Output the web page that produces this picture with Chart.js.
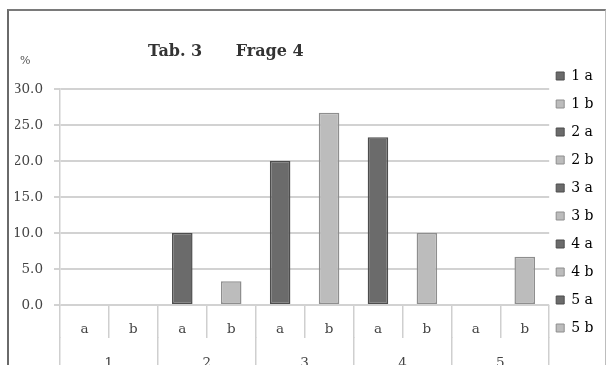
<!DOCTYPE html>
<html>
<head>
<meta charset="utf-8">
<script src="https://cdn.jsdelivr.net/npm/chart.js@4.4.1/dist/chart.umd.min.js"></script>
<style>
  body { margin: 0; background: #fff; overflow: hidden; }
  #wrap { position: relative; width: 607px; height: 365px; overflow: hidden; }
  #c { position: absolute; left: 0; top: 0; }
  .frame { position: absolute; left: 7px; top: 9px; right: 1px; bottom: -20px;
           border-left: 2px solid #6a6a6a; border-top: 2px solid #7a7a7a; border-right: 1px solid #bdbdbd; }
  .pct { position: absolute; left: 20px; top: 54px; font: 11px 'DejaVu Serif', serif; color: #555; }
</style>
</head>
<body>
<div id="wrap">
  <canvas id="c" width="607" height="370"></canvas>
  <div class="frame"></div>
  <div class="pct">%</div>
</div>
<script>
// chart data
const barLabels = ['a', 'b', 'a', 'b', 'a', 'b', 'a', 'b', 'a', 'b'];
const groupLabels = ['1', '2', '3', '4', '5'];
const legendNames = ['1 a', '1 b', '2 a', '2 b', '3 a', '3 b', '4 a', '4 b', '5 a', '5 b'];
const values = [0, 0, 10.0, 3.3, 20.0, 26.7, 23.3, 10.0, 0, 6.7];
const yMin = 0, yMax = 30, yStep = 5;
const titleText = 'Tab. 3      Frage 4';

const fontFam = "'DejaVu Serif', serif";
const darkFill = '#6b6b6b', darkLine = '#4d4d4d';
const lightFill = '#bcbcbc', lightLine = '#8e8e8e';
const fills = barLabels.map(l => l === 'a' ? darkFill : lightFill);
const lines = barLabels.map(l => l === 'a' ? darkLine : lightLine);

// move title and legend to where the original has them
const nudge = {
  id: 'nudge',
  afterLayout(chart) {
    chart.titleBlock.left = 148;
    chart.titleBlock.right = 400;
    chart.legend.left -= 7;
    chart.legend.right -= 7;
  }
};

new Chart(document.getElementById('c').getContext('2d'), {
  type: 'bar',
  data: {
    labels: barLabels,
    datasets: [{
      data: values,
      backgroundColor: fills,
      borderColor: lines,
      borderWidth: 1.5,
      borderSkipped: false,
      barPercentage: 0.42,
      categoryPercentage: 1.0
    }]
  },
  options: {
    responsive: false,
    devicePixelRatio: 1,
    animation: false,
    layout: { padding: { top: 34, left: 15, right: -3.5, bottom: 0 } },
    plugins: {
      tooltip: { enabled: false },
      title: {
        display: true,
        text: titleText,
        align: 'start',
        color: '#333',
        font: { family: fontFam, size: 16, weight: 'bold' },
        padding: { top: 8.4, bottom: 27.4 }
      },
      legend: {
        position: 'right',
        labels: {
          boxWidth: 8,
          boxHeight: 8,
          padding: 14,
          color: '#555',
          font: { family: fontFam, size: 14 },
          generateLabels: () => legendNames.map((t, i) => ({
            text: t,
            fillStyle: fills[i],
            strokeStyle: lines[i],
            lineWidth: 1,
            hidden: false,
            index: i,
            datasetIndex: 0
          }))
        }
      }
    },
    scales: {
      x: {
        weight: 0,
        offset: true,
        border: { display: false },
        grid: { offset: true, drawOnChartArea: false, drawTicks: true, tickLength: 33, color: '#cfcfcf', lineWidth: 1.5 },
        ticks: { padding: -17, maxRotation: 0, autoSkip: false, color: '#444', font: { family: fontFam, size: 13.5 } },
        afterFit: s => { s.height = 31.6; }
      },
      x2: {
        type: 'category',
        labels: groupLabels,
        position: 'bottom',
        weight: 1,
        offset: true,
        border: { display: false },
        grid: { offset: true, drawOnChartArea: false, drawTicks: true, tickLength: 60, color: '#cfcfcf', lineWidth: 1.5 },
        ticks: { padding: -41.6, maxRotation: 0, color: '#444', font: { family: fontFam, size: 13.5 } },
        afterFit: s => { s.height = 33.4; }
      },
      y: {
        min: yMin,
        max: yMax,
        border: { display: true, color: '#cfcfcf', width: 1.5 },
        grid: { color: '#d2d2d2', lineWidth: 2, tickLength: 6 },
        ticks: {
          stepSize: yStep,
          padding: 11,
          color: '#444',
          font: { family: fontFam, size: 13.5 },
          callback: v => v.toFixed(1)
        },
        afterFit: s => { s.width = 45; }
      }
    }
  },
  plugins: [nudge]
});
</script>
</body>
</html>
